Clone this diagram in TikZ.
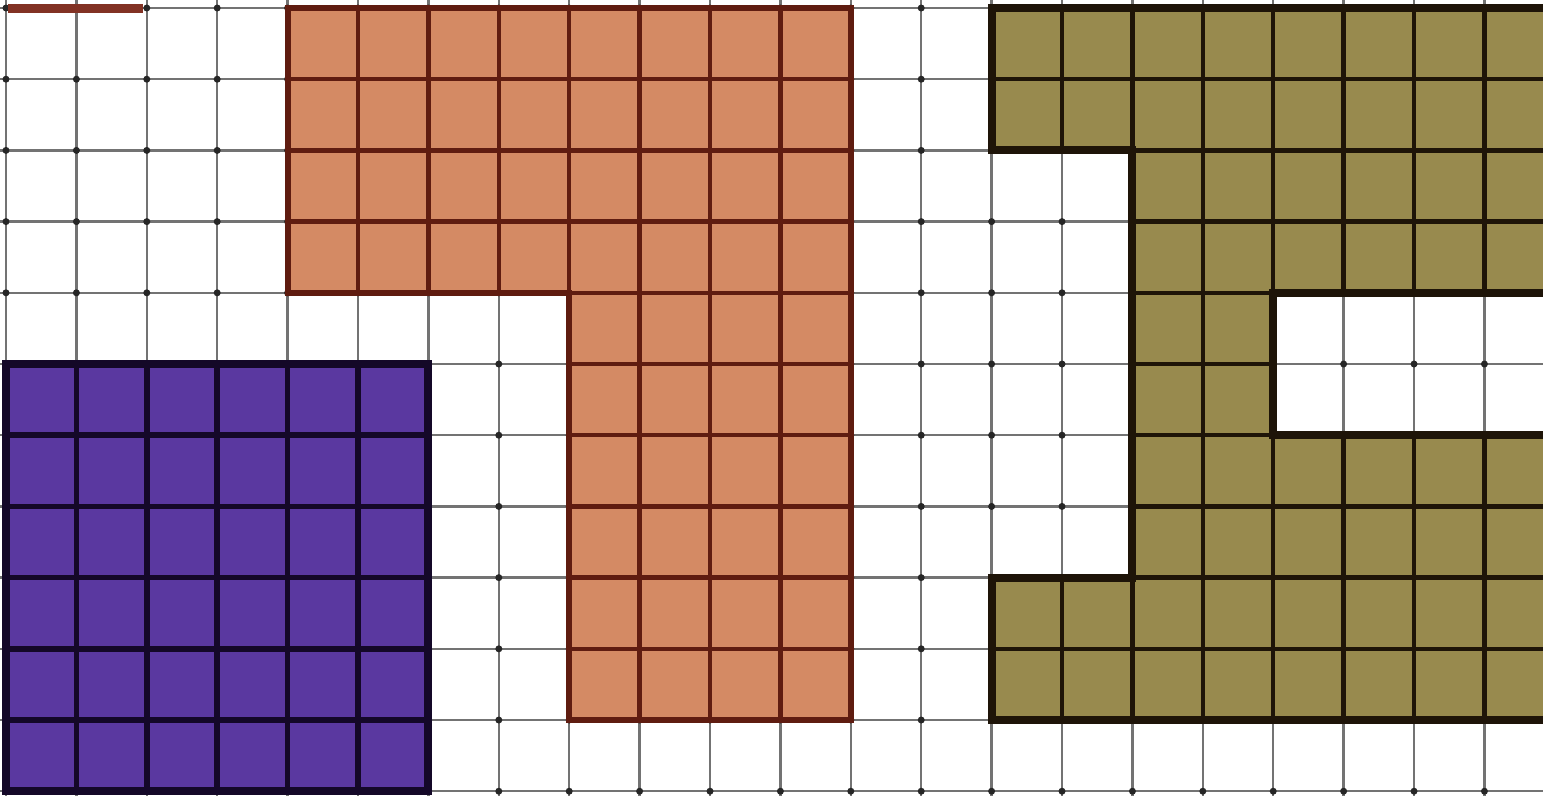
\documentclass[tikz,border=0pt]{standalone}
\definecolor{purplefill}{RGB}{90,56,160}
\definecolor{purpleedge}{RGB}{20,8,40}
\definecolor{orangefill}{RGB}{212,138,100}
\definecolor{orangeedge}{RGB}{95,28,16}
\definecolor{olivefill}{RGB}{152,138,78}
\definecolor{oliveedge}{RGB}{30,20,8}
\definecolor{redbit}{RGB}{130,50,36}
\tikzset{
  gridline/.style={draw=black!55,line width=2.4pt},
  griddot/.style={fill=black!85},
  purpleinner/.style={draw=purpleedge,line width=5.5pt},
  purpleouter/.style={draw=purpleedge,line width=8pt,line join=miter},
  orangeinner/.style={draw=orangeedge,line width=4.5pt},
  orangeouter/.style={draw=orangeedge,line width=6pt,line join=miter},
  oliveinner/.style={draw=oliveedge,line width=4.5pt},
  oliveouter/.style={draw=oliveedge,line width=8pt,line join=miter},
}
\begin{document}
\begin{tikzpicture}[x=70.4pt,y=-71.2pt]
\useasboundingbox (-0.0852,-0.1124) rectangle (21.832,11.067);
\clip (-0.0852,-0.1124) rectangle (21.832,11.067);
\fill[white] (-0.0852,-0.1124) rectangle (21.832,11.067);
% background grid
\foreach \i in {0,...,22} \draw[gridline] (\i,-0.3) -- (\i,11.3);
\foreach \j in {0,...,11} \draw[gridline] (-0.3,\j) -- (22.3,\j);
\foreach \i in {0,...,22} \foreach \j in {0,...,11} \fill[griddot] (\i,\j) circle (3.5pt);
% red fragment at top left
\draw[draw=redbit,line width=9pt] (0.03,0) -- (1.95,0);
% purple square
\fill[purplefill] (0,5) rectangle (6,11);
\begin{scope}
  \clip (0,5) rectangle (6,11);
  \foreach \i in {1,...,5} \draw[purpleinner] (\i,5) -- (\i,11);
  \foreach \j in {6,...,10} \draw[purpleinner] (0,\j) -- (6,\j);
\end{scope}
\draw[purpleouter] (0,5) rectangle (6,11);
% orange L shape
\fill[orangefill] (4,0) -- (12,0) -- (12,10) -- (8,10) -- (8,4) -- (4,4) -- cycle;
\begin{scope}
  \clip (4,0) -- (12,0) -- (12,10) -- (8,10) -- (8,4) -- (4,4) -- cycle;
  \foreach \i in {5,...,11} \draw[orangeinner] (\i,0) -- (\i,10);
  \foreach \j in {1,...,9} \draw[orangeinner] (4,\j) -- (12,\j);
\end{scope}
\draw[orangeouter] (4,0) -- (12,0) -- (12,10) -- (8,10) -- (8,4) -- (4,4) -- cycle;
% olive shape with slot
\fill[olivefill,even odd rule] (14,0) -- (23,0) -- (23,10) -- (14,10) -- (14,8) -- (16,8) -- (16,2) -- (14,2) -- cycle
  (18,4) -- (23,4) -- (23,6) -- (18,6) -- cycle;
\begin{scope}[even odd rule]
  \clip (14,0) -- (23,0) -- (23,10) -- (14,10) -- (14,8) -- (16,8) -- (16,2) -- (14,2) -- cycle
  (18,4) -- (23,4) -- (23,6) -- (18,6) -- cycle;
  \foreach \i in {15,...,22} \draw[oliveinner] (\i,0) -- (\i,10);
  \foreach \j in {1,...,9} \draw[oliveinner] (14,\j) -- (23,\j);
\end{scope}
\draw[oliveouter] (14,0) -- (23,0) -- (23,10) -- (14,10) -- (14,8) -- (16,8) -- (16,2) -- (14,2) -- cycle;
\draw[oliveouter] (23,4) -- (18,4) -- (18,6) -- (23,6);
\end{tikzpicture}
\end{document}
